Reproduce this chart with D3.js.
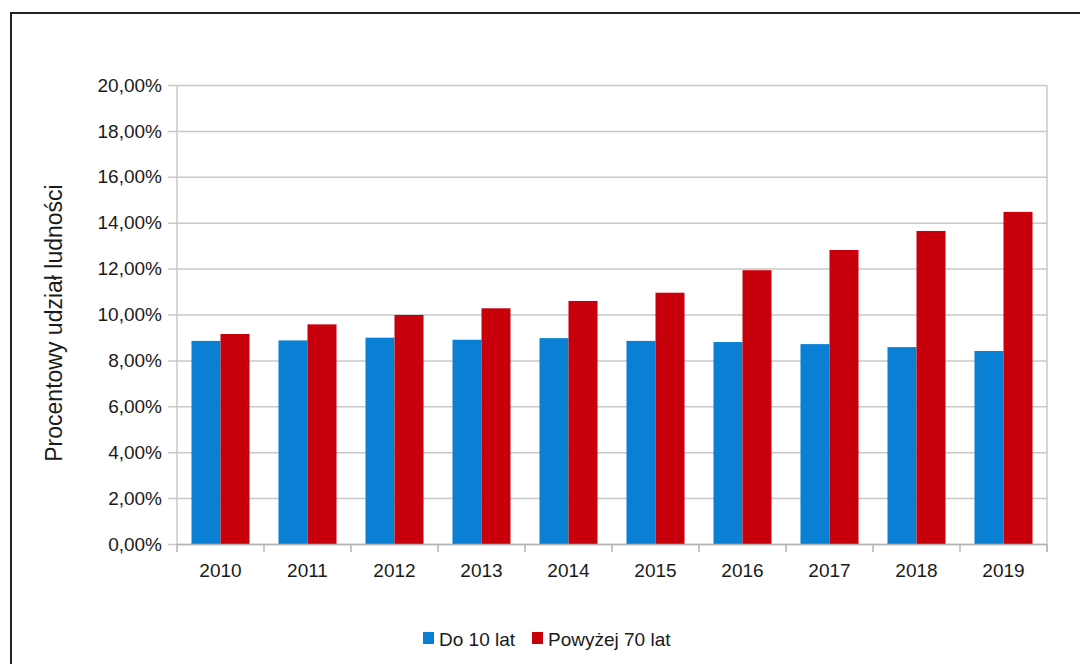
<!DOCTYPE html>
<meta charset="utf-8">
<script src="https://d3js.org/d3.v7.min.js"></script>
<html>
<head>
<style>
body { margin: 0; background: #fff; }
text { font-family: "Liberation Sans", Arial, sans-serif; fill: #1a1a1a; }
</style>
</head>
<body>
<svg id="chart" width="1080" height="664"></svg>
<script>

// Data
var years = ["2010", "2011", "2012", "2013", "2014", "2015", "2016", "2017", "2018", "2019"];
var seriesNames = ["Do 10 lat", "Powyżej 70 lat"];
var under10 = [8.85, 8.87, 8.99, 8.90, 8.97, 8.85, 8.80, 8.71, 8.58, 8.41];
var over70 = [9.15, 9.57, 9.98, 10.27, 10.59, 10.95, 11.93, 12.81, 13.64, 14.47];
var yTicks = [0, 2, 4, 6, 8, 10, 12, 14, 16, 18, 20];

var svg = d3.select("#chart");
var colors = ["#0a80d4", "#c8000b"];

// outer frame (runs off the right/bottom edge)
svg.append("rect")
  .attr("x", 11).attr("y", 13)
  .attr("width", 1100).attr("height", 700)
  .attr("fill", "none")
  .attr("stroke", "#222")
  .attr("stroke-width", 2);

var margin = {left: 177, top: 85, right: 1047, bottom: 544};

var x = d3.scaleBand()
  .domain(years)
  .range([margin.left, margin.right])
  .paddingInner(0.333)
  .paddingOuter(0.1665);

var y = d3.scaleLinear()
  .domain([0, 20])
  .range([margin.bottom, margin.top]);

var xSub = d3.scaleBand()
  .domain(seriesNames)
  .range([0, x.bandwidth()]);

// gridlines
svg.append("g")
  .selectAll("line")
  .data(yTicks)
  .enter()
  .append("line")
    .attr("x1", margin.left - 9)
    .attr("x2", margin.right)
    .attr("y1", function(d){ return y(d) + 0.5 })
    .attr("y2", function(d){ return y(d) + 0.5 })
    .attr("stroke", "#c8c8c8")
    .attr("stroke-width", 1.5);

// y tick labels
svg.append("g")
  .selectAll("text")
  .data(yTicks)
  .enter()
  .append("text")
    .attr("x", margin.left - 15)
    .attr("y", function(d){ return y(d) })
    .attr("dy", "0.35em")
    .attr("text-anchor", "end")
    .style("font-size", "19px")
    .text(function(d){ return d3.format(".2f")(d).replace(".", ",") + "%" });

// axis frame lines
svg.append("line")
  .attr("x1", margin.left).attr("x2", margin.left)
  .attr("y1", margin.top).attr("y2", margin.bottom)
  .attr("stroke", "#c8c8c8").attr("stroke-width", 1.5);
svg.append("line")
  .attr("x1", margin.right).attr("x2", margin.right)
  .attr("y1", margin.top).attr("y2", margin.bottom + 8)
  .attr("stroke", "#c8c8c8").attr("stroke-width", 1.5);

// bars
var groups = svg.append("g")
  .selectAll("g")
  .data(years)
  .enter()
  .append("g")
    .attr("transform", function(d){ return "translate(" + x(d) + ",0)" });

groups.selectAll("rect")
  .data(function(d, i){ return [under10[i], over70[i]] })
  .enter()
  .append("rect")
    .attr("x", function(d, j){ return xSub(seriesNames[j]) })
    .attr("width", xSub.bandwidth())
    .attr("y", function(d){ return y(d) })
    .attr("height", function(d){ return y(0) - y(d) })
    .attr("fill", function(d, j){ return colors[j] });

// x axis baseline and ticks
var step = x.step();
svg.append("line")
  .attr("x1", margin.left).attr("x2", margin.right)
  .attr("y1", margin.bottom + 0.5).attr("y2", margin.bottom + 0.5)
  .attr("stroke", "#b4b4b4").attr("stroke-width", 1.5);

svg.append("g")
  .selectAll("line")
  .data(d3.range(years.length + 1))
  .enter()
  .append("line")
    .attr("x1", function(i){ return margin.left + i * step })
    .attr("x2", function(i){ return margin.left + i * step })
    .attr("y1", margin.bottom)
    .attr("y2", margin.bottom + 8)
    .attr("stroke", "#b4b4b4")
    .attr("stroke-width", 1.5);

svg.append("g")
  .selectAll("text")
  .data(years)
  .enter()
  .append("text")
    .attr("x", function(d){ return x(d) + x.bandwidth() / 2 })
    .attr("y", 577)
    .attr("text-anchor", "middle")
    .style("font-size", "19px")
    .text(function(d){ return d });

// y axis title
svg.append("text")
  .attr("transform", "translate(62,323) rotate(-90)")
  .attr("text-anchor", "middle")
  .style("font-size", "23px")
  .text("Procentowy udział ludności");

// legend
var legend = svg.append("g").attr("transform", "translate(423,646)");
var lx = [0, 109];
seriesNames.forEach(function(name, i){
  legend.append("rect")
    .attr("x", lx[i]).attr("y", -14)
    .attr("width", 11).attr("height", 12)
    .attr("fill", colors[i]);
  legend.append("text")
    .attr("x", lx[i] + 16).attr("y", 0)
    .style("font-size", "19px")
    .text(name);
});

</script>
</body>
</html>
